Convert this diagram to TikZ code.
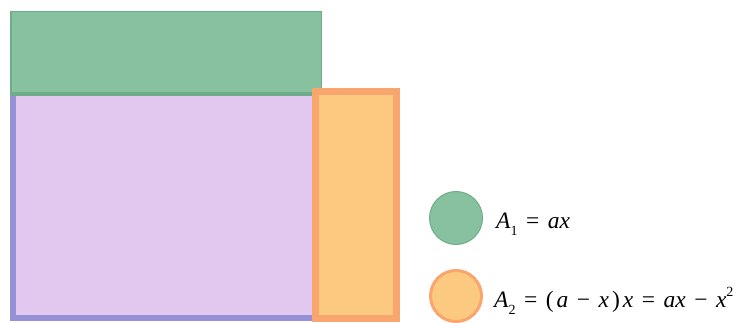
\documentclass[tikz,border=0pt]{standalone}
\usepackage{fontspec}
\setmainfont{Liberation Serif}
\definecolor{gfill}{RGB}{136,193,160}
\definecolor{gline}{RGB}{110,172,138}
\definecolor{pfill}{RGB}{226,200,238}
\definecolor{pline}{RGB}{150,145,215}
\definecolor{ofill}{RGB}{252,201,128}
\definecolor{oline}{RGB}{249,165,110}
\newcommand{\gp}{\hspace{8.5pt}}
\newcommand{\gs}{\hspace{3pt}}
\newcommand{\up}[1]{{\upshape #1}}
\newcommand{\sbx}[1]{\raisebox{-0.3em}{\upshape\fontsize{14}{14}\selectfont #1}}
\newcommand{\spx}[1]{\raisebox{0.45em}{\upshape\fontsize{14}{14}\selectfont #1}}
\begin{document}
\begin{tikzpicture}[x=1pt,y=-1pt,
  lbl/.style={anchor=base west,inner sep=0pt,font=\fontsize{23.5}{26}\selectfont\itshape}]
\useasboundingbox (0,0) rectangle (746,323);
% purple square
\fill[pfill] (10,95) rectangle (316,321);
\draw[pline,line width=6pt] (13,95) -- (13,318) -- (316,318);
% green strip
\draw[gline,line width=1.5pt,fill=gfill] (10.75,11.75) rectangle (321.25,95);
\draw[gline,line width=3pt] (10,94) -- (322,94);
% orange strip
\draw[oline,line width=7pt,fill=ofill] (315.5,91.5) rectangle (396.5,318.5);
% legend
\node[circle,fill=gfill,draw=gline,line width=1pt,minimum size=53pt,inner sep=0pt] (c1) at (456,218) {};
\node[circle,fill=ofill,draw=oline,line width=3pt,minimum size=51pt,inner sep=0pt] (c2) at (456,296) {};
\node[lbl] (t1) at (496,228) {A\sbx{1}\gp\up{=}\gp ax};
\node[lbl] (t2) at (494,307) {A\sbx{2}\gp\up{=}\gp\up{(}\gs a\gp\up{−}\gp x\gs\up{)}\gs x\gp\up{=}\gp ax\gp\up{−}\gp x\spx{2}};
\end{tikzpicture}
\end{document}
